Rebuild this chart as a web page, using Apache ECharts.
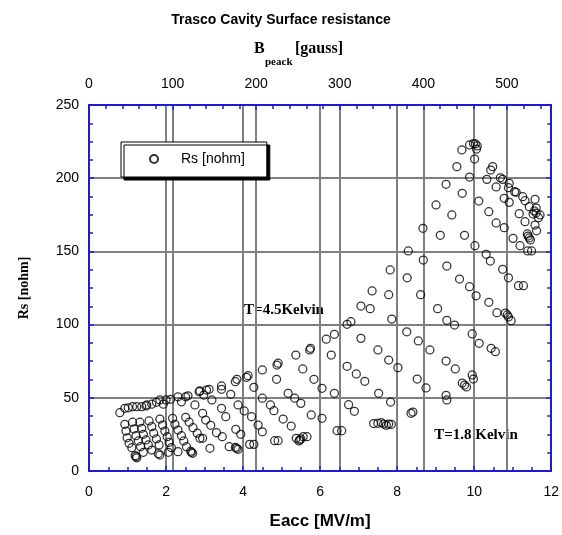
<!DOCTYPE html>
<html><head><meta charset="utf-8">
<script src="https://cdn.jsdelivr.net/npm/echarts@6/dist/echarts.min.js"></script>
<style>html,body{margin:0;padding:0;background:#fff}#c{width:562px;height:535px}</style>
</head><body><div id="c"></div>
<script>
// Eacc [MV/m] and Rs [nohm] of each measured point
const eaccValues = [
0.80,0.93,1.02,1.13,1.24,1.37,1.50,1.48,1.63,1.75,1.84,1.93,2.00,2.12,2.31,2.40,2.51,2.57,2.75,2.86,3.05,3.44,3.44,3.80,3.84,4.13,4.09,4.50,4.88,4.91,5.37,5.73,5.75,6.16,6.37,6.70,6.80,7.06,7.30,7.35,7.78,7.82,8.26,8.29,8.67,9.01,9.27,9.55,9.68,9.88,9.98,10.03,10.08,10.06,10.01,
10.48,10.43,9.88,10.33,10.68,10.74,10.91,10.57,10.89,11.05,11.09,9.69,11.26,11.32,11.58,10.78,10.91,10.12,11.43,11.61,11.56,11.61,11.53,11.71,11.67,11.17,10.38,9.42,11.32,11.58,11.62,10.57,10.78,9.12,9.75,11.40,11.43,11.46,11.38,11.01,11.19,11.39,11.49,10.02,8.68,10.31,10.42,9.29,10.74,9.62,10.89,11.15,11.28,9.88,
8.61,7.86,9.05,9.29,10.05,10.38,10.59,10.81,10.86,10.89,10.96,7.06,8.25,9.49,8.55,9.95,8.85,10.13,10.44,10.55,7.50,7.78,8.02,9.27,9.51,9.95,9.98,9.69,9.75,9.80,6.29,6.70,6.94,7.16,8.52,8.75,6.37,7.52,9.27,9.29,7.83,6.74,6.89,8.36,8.41,7.39,7.50,7.59,7.65,7.72,7.78,7.85,6.44,6.56,
5.55,4.87,4.28,3.68,3.12,2.98,2.88,5.17,5.34,5.50,4.50,3.19,3.87,4.71,4.80,5.77,6.05,5.04,4.03,4.22,3.44,3.55,2.95,3.03,3.16,4.39,4.50,5.25,3.31,3.46,3.81,3.94,2.95,3.14,3.80,3.83,3.87,3.64,4.17,4.28,4.82,4.91,5.47,5.38,5.56,5.66,5.45,5.50,5.84,6.05,
0.93,0.96,0.99,1.04,1.11,1.20,1.22,1.24,1.13,1.17,1.22,1.28,1.34,1.41,1.32,1.37,1.41,1.48,1.54,1.63,1.56,1.63,1.68,1.75,1.82,1.80,1.84,1.84,1.91,1.97,2.03,2.08,2.14,2.06,2.17,2.23,2.31,2.40,2.46,2.53,2.31,2.51,2.60,2.70,2.81,2.88,2.64,2.66,2.69
];
const rsValues = [
39.8,42.8,43.2,43.9,43.9,43.9,45.1,44.4,45.6,46.9,48.5,45.6,48.5,49.0,50.7,47.3,50.7,51.4,45.1,54.2,55.3,58.1,55.8,61.0,62.6,65.1,64.0,69.0,72.4,73.6,79.2,82.7,83.8,90.0,93.4,100.2,102.0,112.7,110.9,123.0,120.4,137.3,132.0,150.3,165.8,181.7,195.8,207.9,219.3,222.7,223.7,223.4,222.0,219.9,213.1,
207.9,205.6,200.8,199.2,200.3,199.2,196.5,194.0,193.5,190.8,190.4,189.7,187.4,184.6,185.6,186.3,183.5,184.4,180.5,179.6,177.6,176.2,175.5,174.9,173.0,175.8,177.1,174.9,170.3,168.0,164.1,169.4,166.2,161.0,161.0,160.5,159.2,157.8,161.9,158.9,153.9,150.3,150.3,153.9,144.1,148.0,143.4,140.0,137.8,131.1,132.0,126.6,126.6,125.9,
120.4,103.8,110.9,102.9,119.7,115.2,108.1,107.9,106.6,105.2,102.7,90.6,95.1,99.7,88.8,93.6,82.7,87.2,83.8,81.5,82.7,75.8,70.6,75.1,69.7,65.6,62.8,60.1,58.7,57.4,79.2,71.5,66.3,61.3,62.8,56.7,53.1,53.1,51.7,48.5,47.1,45.3,40.8,39.4,40.3,32.4,32.6,33.0,32.1,31.2,32.1,31.9,27.5,27.5,
69.7,62.6,57.2,52.4,55.8,51.9,54.8,53.1,49.7,46.2,49.7,48.5,45.1,45.1,41.2,38.3,36.0,35.5,41.0,37.1,42.8,37.1,39.4,34.8,31.2,31.4,26.8,30.7,26.2,23.4,28.5,25.1,22.3,15.5,16.2,15.5,14.8,16.6,18.2,18.2,20.7,20.7,21.2,22.3,23.4,23.4,20.5,21.9,62.6,56.5,
31.9,27.3,22.7,18.9,15.9,10.5,9.8,9.0,33.3,28.7,24.1,20.5,16.6,12.8,33.3,29.2,25.1,21.2,17.8,14.3,34.2,30.3,25.8,21.9,17.8,11.8,10.9,35.5,31.4,27.3,23.4,19.6,15.9,12.8,36.0,31.9,28.0,24.1,20.5,16.6,13.2,36.7,33.3,29.6,25.8,22.3,13.5,12.8,12.1
];
const seriesName = 'Rs [nohm]';
const eaccRange = [0, 12, 2];
const bpeakRange = [0, 553, 100];
const rsRange = [0, 250, 50];

const points = eaccValues.map((e, i) => [e, rsValues[i]]);
const AX = '#1c1cd6', GRID = '#808080';
const sans = '"Liberation Sans", Arial, sans-serif';
const serif = '"Liberation Serif", "Times New Roman", serif';

function axisBase(extra) {
  return Object.assign({
    type: 'value',
    axisLine: {show: true, onZero: false, lineStyle: {color: AX, width: 2}},
    axisTick: {show: true, inside: true, length: 5, lineStyle: {color: AX, width: 1.5}},
    minorTick: {show: true, splitNumber: 4, length: 4, lineStyle: {color: AX, width: 1.5}},
    axisLabel: {color: '#000', fontSize: 14, fontFamily: sans},
    splitLine: {show: false}
  }, extra);
}

const chart = echarts.init(document.getElementById('c'), null, {renderer: 'canvas'});
chart.setOption({
  animation: false,
  backgroundColor: '#fff',
  title: {text: 'Trasco Cavity Surface resistance', left: 'center', top: 8,
    textStyle: {fontFamily: sans, fontWeight: 'bold', fontSize: 14, color: '#000'}},
  grid: {left: 89, right: 10, top: 105, bottom: 64, containLabel: false},
  legend: {
    data: [seriesName], left: 121, top: 142,
    padding: [10, 22, 11, 28], itemWidth: 8, itemHeight: 8,
    backgroundColor: '#fff', borderColor: '#000', borderWidth: 1,
    shadowColor: '#000', shadowOffsetX: 3, shadowOffsetY: 3, shadowBlur: 0,
    textStyle: {fontSize: 14, color: '#000', fontFamily: sans, padding: [0, 0, 0, 18]}
  },
  xAxis: [
    axisBase({position: 'bottom', min: eaccRange[0], max: eaccRange[1], interval: eaccRange[2],
      axisLabel: {color: '#000', fontSize: 14, fontFamily: sans, margin: 14},
      splitLine: {show: true, showMinLine: false, showMaxLine: false, lineStyle: {color: GRID, width: 2}},
      name: 'Eacc [MV/m]', nameLocation: 'middle', nameGap: 42,
      nameTextStyle: {fontFamily: sans, fontWeight: 'bold', fontSize: 17, color: '#000'}}),
    axisBase({position: 'top', min: bpeakRange[0], max: bpeakRange[1], interval: bpeakRange[2],
      minorTick: {show: true, splitNumber: 5, length: 4, lineStyle: {color: AX, width: 1.5}},
      axisLabel: {color: '#000', fontSize: 14, fontFamily: sans, margin: 14, showMaxLabel: false,
        formatter: v => (v % 100 === 0 ? String(v) : '')},
      splitLine: {show: true, showMinLine: false, showMaxLine: false, lineStyle: {color: GRID, width: 2}}})
  ],
  yAxis: [
    axisBase({position: 'left', min: rsRange[0], max: rsRange[1], interval: rsRange[2],
      axisLabel: {color: '#000', fontSize: 14, fontFamily: sans, margin: 10},
      splitLine: {show: true, showMinLine: false, showMaxLine: false, lineStyle: {color: GRID, width: 2}},
      name: 'Rs [nohm]', nameLocation: 'middle', nameGap: 58,
      nameTextStyle: {fontFamily: serif, fontWeight: 'bold', fontSize: 14, color: '#000'}}),
    axisBase({position: 'right', min: rsRange[0], max: rsRange[1], interval: rsRange[2],
      axisLabel: {show: false}})
  ],
  graphic: [
    {type: 'text', x: 254, y: 49, style: {text: 'B', font: 'bold 16px ' + serif, fill: '#000', align: 'left', verticalAlign: 'middle'}},
    {type: 'text', x: 265, y: 62, style: {text: 'peack', font: 'bold 11px ' + serif, fill: '#000', align: 'left', verticalAlign: 'middle'}},
    {type: 'text', x: 295, y: 49, style: {text: '[gauss]', font: 'bold 16px ' + serif, fill: '#000', align: 'left', verticalAlign: 'middle'}},
    {type: 'text', x: 284, y: 310, style: {text: 'T=4.5Kelvin', font: 'bold 15px ' + serif, fill: '#000', align: 'center', verticalAlign: 'middle'}},
    {type: 'text', x: 476, y: 435, style: {text: 'T=1.8 Kelvin', font: 'bold 15px ' + serif, fill: '#000', align: 'center', verticalAlign: 'middle'}}
  ],
  series: [{
    name: seriesName, type: 'scatter', xAxisIndex: 0, yAxisIndex: 0,
    symbol: 'circle', symbolSize: 8,
    itemStyle: {color: 'rgba(0,0,0,0)', borderColor: '#000', borderWidth: 1.25},
    emphasis: {disabled: true},
    data: points
  }]
});
</script></body></html>
